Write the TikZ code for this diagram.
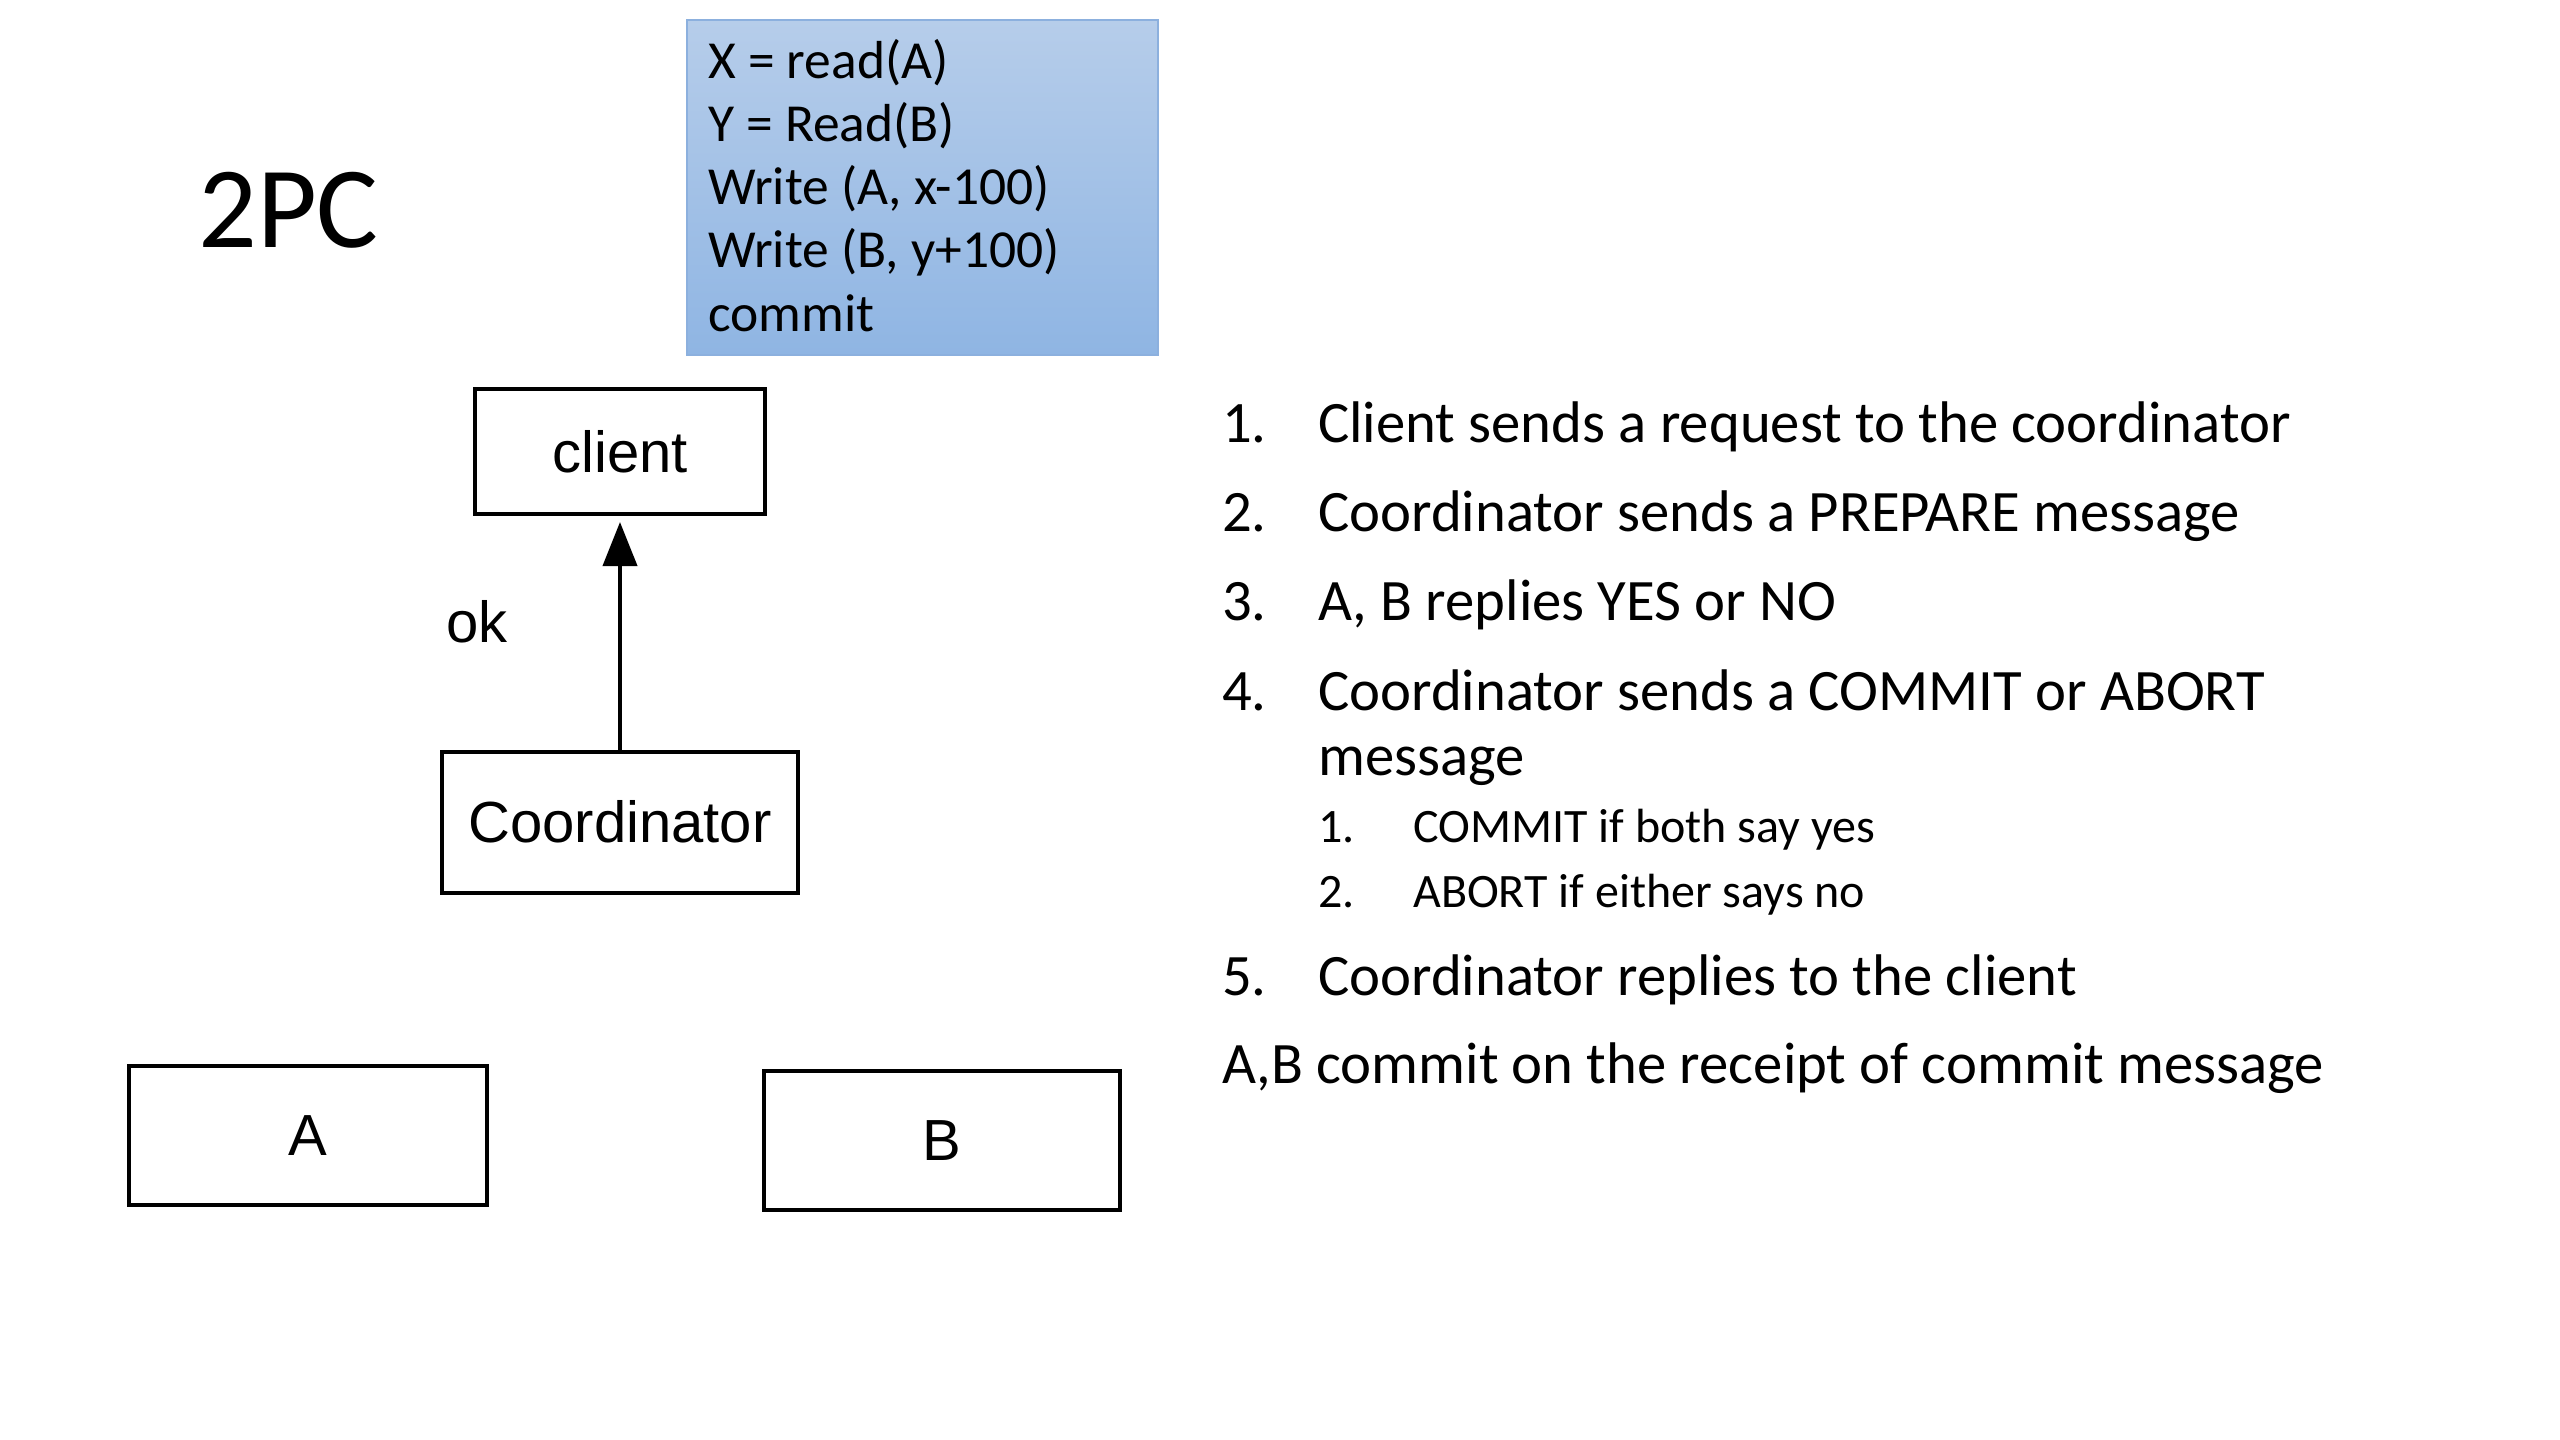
\documentclass[tikz,border=0pt]{standalone}
\usepackage{fontspec}
\setmainfont{Carlito}
\newfontfamily\arialf{Liberation Sans}
\usetikzlibrary{arrows.meta}
\definecolor{boxtop}{RGB}{182,205,234}
\definecolor{boxbot}{RGB}{143,181,227}
\definecolor{boxline}{RGB}{140,176,222}
\tikzset{
  cal/.style={font=\fontsize{58.7pt}{70pt}\selectfont, inner sep=0pt, anchor=base west},
  calsmall/.style={font=\fontsize{48pt}{58pt}\selectfont, inner sep=0pt, anchor=base west},
  code/.style={font=\fontsize{53.5pt}{62pt}\selectfont, inner sep=0pt, anchor=base west},
  umlbox/.style={draw=black, line width=4pt, font=\arialf\fontsize{58pt}{66pt}\selectfont, inner sep=0pt},
}
\begin{document}
\begin{tikzpicture}[x=1pt,y=-1pt]
\useasboundingbox[fill=white] (0,0) rectangle (2560,1440);

% title
\node[font=\fontsize{116pt}{130pt}\selectfont, inner sep=0pt, anchor=base west] (title) at (198,247) {2PC};

% code box
\node[draw=boxline, line width=2pt, top color=boxtop, bottom color=boxbot, minimum width=471pt, minimum height=335pt, inner sep=0pt] (codebox) at (922.5,187.5) {};
\node[code] (c1) at (708,78) {X = read(A)};
\node[code] (c2) at (708,141) {Y = Read(B)};
\node[code] (c3) at (708,204) {Write (A, x-100)};
\node[code] (c4) at (708,267) {Write (B, y+100)};
\node[code] (c5) at (708,331) {commit};

% diagram boxes
\node[umlbox, minimum width=290pt, minimum height=125pt] (client) at (620,451.5) {client};
\node[umlbox, minimum width=356pt, minimum height=141pt] (coord) at (620,822) {Coordinator};
\node[umlbox, minimum width=358pt, minimum height=139pt] (A) at (308,1135.5) {A};
\node[umlbox, minimum width=356pt, minimum height=139pt] (B) at (942,1140.5) {B};

\draw[line width=4pt, -{Triangle[length=44pt,width=34pt]}, shorten >=6pt] (coord.north) -- (client.south);
\node[font=\arialf\fontsize{58pt}{66pt}\selectfont, inner sep=0pt, anchor=base west] (ok) at (446,642) {ok};

% list
\node[cal] (n1) at (1222,442) {1.};
\node[cal] (t1) at (1318,442) {Client sends a request to the coordinator};
\node[cal] (n2) at (1222,531) {2.};
\node[cal] (t2) at (1318,531) {Coordinator sends a PREPARE message};
\node[cal] (n3) at (1222,620) {3.};
\node[cal] (t3) at (1318,620) {A, B replies YES or NO};
\node[cal] (n4) at (1222,710) {4.};
\node[cal] (t4) at (1318,710) {Coordinator sends a COMMIT or ABORT};
\node[cal] (t4b) at (1318,775) {message};
\node[calsmall] (s1) at (1318,842) {1.};
\node[calsmall] (st1) at (1413,842) {COMMIT if both say yes};
\node[calsmall] (s2) at (1318,907) {2.};
\node[calsmall] (st2) at (1413,907) {ABORT if either says no};
\node[cal] (n5) at (1222,995) {5.};
\node[cal] (t5) at (1318,995) {Coordinator replies to the client};
\node[cal] (t6) at (1222,1083) {A,B commit on the receipt of commit message};
\end{tikzpicture}
\end{document}
